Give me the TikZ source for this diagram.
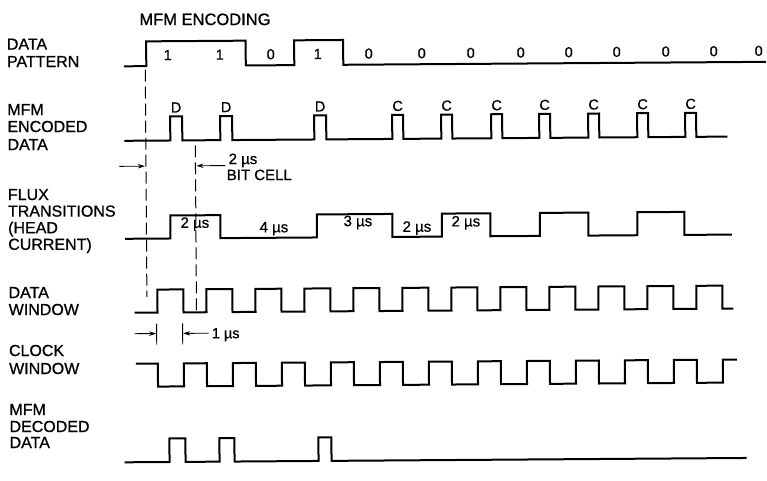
\documentclass[tikz,border=0pt]{standalone}
\usepackage{fontspec}
\setmainfont{Liberation Sans}[UprightFeatures={FakeBold=0.8}]
\usetikzlibrary{arrows.meta}
\begin{document}
\begin{tikzpicture}[x=1pt,y=-1pt,
  wave/.style={line width=2pt, line join=miter, line cap=butt},
  dashline/.style={line width=1pt, dash pattern=on 12pt off 5pt},
  arr/.style={line width=0.9pt, -{Stealth[length=7pt,width=4.5pt]}},
  tickline/.style={line width=0.9pt},
  lbl/.style={anchor=base west, inner sep=0pt, font=\fontsize{16}{17}\selectfont},
  bit/.style={anchor=base, inner sep=0pt, font=\fontsize{14.5}{15}\selectfont},
  us/.style={anchor=base, inner sep=0pt, font=\fontsize{15}{16}\selectfont},
  note/.style={anchor=base west, inner sep=0pt, font=\fontsize{15}{16}\selectfont},
]
\fill[white] (0,0) rectangle (767,480);
\useasboundingbox (0,0) rectangle (767,480);
\begin{scope}[rotate around={0.4:(383,240)}]
% title
\node[anchor=base, inner sep=0pt, font=\fontsize{16.5}{17}\selectfont] (title) at (206.5,23.8) {MFM ENCODING};
% left labels
\node[lbl] (l1a) at (8,47) {DATA};
\node[lbl] (l1b) at (8,64.4) {PATTERN};
\node[lbl] (l2a) at (8,112.4) {MFM};
\node[lbl] (l2b) at (8,129.4) {ENCODED};
\node[lbl] (l2c) at (8,147.4) {DATA};
\node[lbl] (l3a) at (8,197.4) {FLUX};
\node[lbl] (l3b) at (8,214) {TRANSITIONS};
\node[lbl] (l3c) at (8,230.6) {(HEAD};
\node[lbl] (l3d) at (8,247.2) {CURRENT)};
\node[lbl] (l4a) at (8,295.4) {DATA};
\node[lbl] (l4b) at (8,312.4) {WINDOW};
\node[lbl] (l5a) at (8,353.4) {CLOCK};
\node[lbl] (l5b) at (8,371.4) {WINDOW};
\node[lbl] (l6a) at (8,412.4) {MFM};
\node[lbl] (l6b) at (8,429.4) {DECODED};
\node[lbl] (l6c) at (8,445.4) {DATA};

% data pattern
\draw[wave] (125,64.5) -| (147.5,39.7) -| (247,64.5) -| (295.5,39.7) -| (344.5,64.5) -- (767,64.5);
\foreach \x/\t [count=\i] in {169/1,221/1,272/0,319/1,370/0,423/0,472/0,522/0,570/0,618/0,667/0,715/0,760/0}
  \node[bit] (b\i) at (\x,58.5) {\t};

% MFM encoded data
\draw[wave] (125,139) -| (171,115) -| (183,139) -| (221,115) -| (233,139) -| (315,115) -| (327,139)
  -| (393,115) -| (404,139) -| (442,115) -| (453,139) -| (492,115) -| (503,139) -| (540,115) -| (551,139)
  -| (589,115) -| (600,139) -| (638,115) -| (649,139) -| (686,115) -| (697,139) -- (728,139);
\foreach \x/\t [count=\i] in {177/D,227/D,321/D,398.5/C,447.5/C,497.5/C,545.5/C,594.5/C,643.5/C,691.5/C}
  \node[bit] (e\i) at (\x,111) {\t};

% flux transitions
\draw[wave] (125,237) -| (170.5,214) -| (220.5,237) -| (317,214) -| (392.5,237) -| (442,214) -| (490.5,237)
  -| (540,214) -| (588.5,237) -| (637.5,214) -| (684.5,237) -- (732,237);
\node[us] (f1) at (195,226.5) {2 µs};
\node[us] (f2) at (274,231.5) {4 µs};
\node[us] (f3) at (358,226) {3 µs};
\node[us] (f4) at (417,232) {2 µs};
\node[us] (f5) at (466,227) {2 µs};

% data window
\draw[wave] (134,311) foreach \k in {0,...,11} { -| ({157+49*\k},288) -| ({183+49*\k},311) } -- (733,311);
% clock window
\draw[wave] (135,362) foreach \k in {0,...,11} { -| ({157+49*\k},385) -| ({183+49*\k},362) } -- (736,362);
% decoded data
\draw[wave] (123,460.5) -| (168,437) -| (184,460.5) -| (218,437) -| (233,460.5) -| (317,437) -| (330,460.5) -- (745,460.5);

% dashed reference lines
\coordinate (d1t) at (146.5,68);
\coordinate (d1b) at (146.5,295.5);
\coordinate (d2t) at (196,144);
\coordinate (d2b) at (196,312);
\draw[dashline] (d1t) -- (d1b);
\draw[dashline] (d2t) -- (d2b);

% 2 us bit cell
\coordinate (a1s) at (120,164.5);
\coordinate (a1e) at (145.5,164.5);
\coordinate (a2s) at (226,164.5);
\coordinate (a2e) at (197,164.5);
\draw[arr] (a1s) -- (a1e);
\draw[arr] (a2s) -- (a2e);
\node[note] (bc1) at (229,163) {2 µs};
\node[note] (bc2) at (227,179) {BIT CELL};

% 1 us
\coordinate (t1t) at (156,322);
\coordinate (t1b) at (156,343);
\coordinate (t2t) at (182,322);
\coordinate (t2b) at (182,343);
\draw[tickline] (t1t) -- (t1b);
\draw[tickline] (t2t) -- (t2b);
\coordinate (a3s) at (134,332);
\coordinate (a3e) at (155.5,332);
\coordinate (a4s) at (208,332);
\coordinate (a4e) at (182.5,332);
\draw[arr] (a3s) -- (a3e);
\draw[arr] (a4s) -- (a4e);
\node[anchor=base west, inner sep=0pt, font=\fontsize{14.5}{15}\selectfont] (us1) at (211,337) {1 µs};
\end{scope}
\end{tikzpicture}
\end{document}
